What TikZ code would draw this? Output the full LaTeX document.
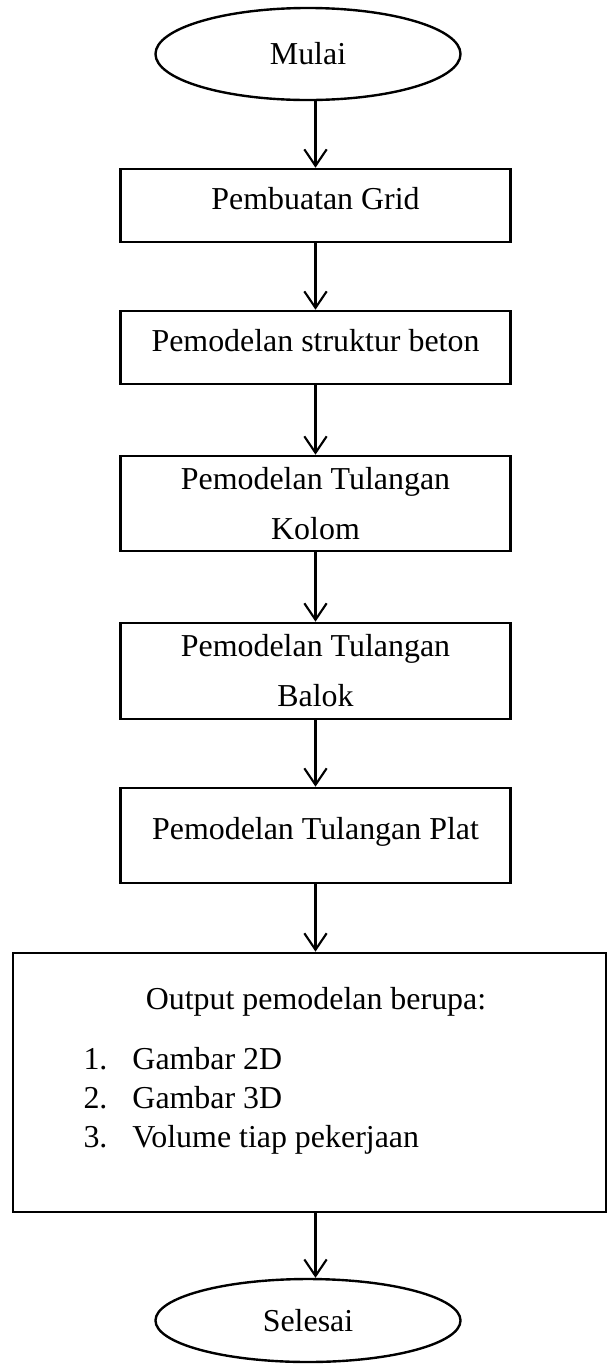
\documentclass[tikz,border=0pt]{standalone}
\usepackage{fontspec}
\setmainfont{Liberation Serif}
\usetikzlibrary{shapes.geometric,arrows.meta}

\begin{document}
\begin{tikzpicture}[x=0.376pt,y=-0.376pt,
    font=\fontsize{12}{18.8}\selectfont,
    terminal/.style={draw,ellipse,line width=0.9pt,inner sep=0pt,minimum width=114.7pt},
    proses/.style={draw,rectangle,line width=1pt,inner sep=0pt,align=center,minimum width=146.6pt},
    satubaris/.style={text depth=5.4pt},
    panah/.style={line width=0.8pt,-{Straight Barb[length=6.2pt,width=8.4pt]}}]
        \useasboundingbox (0,0) rectangle (608,1364);
        %
        \node[terminal,minimum height=34.6pt] (mulai) at (308,54) {Mulai};
        \node[proses,satubaris,minimum height=27.4pt] (grid) at (315.5,205.5) {Pembuatan Grid};
        \node[proses,satubaris,minimum height=27.4pt] (beton) at (315.5,347.5) {Pemodelan struktur beton};
        \node[proses,minimum height=35.7pt] (kolom) at (315.5,503.5) {Pemodelan Tulangan\\Kolom};
        \node[proses,minimum height=36.1pt] (balok) at (315.5,671) {Pemodelan Tulangan\\Balok};
        \node[proses,satubaris,minimum height=35.7pt] (plat) at (315.5,835.5) {Pemodelan Tulangan Plat};
        %
        \node[proses,minimum width=223pt,minimum height=97.4pt] (output) at (309.5,1082.5) {};
        \node (judul) at (316,1002) {Output pemodelan berupa:};
        \node[anchor=west,inner sep=0pt,align=left,font=\fontsize{12}{14.7}\selectfont] (daftar) at (83,1101)
            {\makebox[18.4pt][l]{1.}Gambar 2D\\\makebox[18.4pt][l]{2.}Gambar 3D\\\makebox[18.4pt][l]{3.}Volume tiap pekerjaan};
        %
        \node[terminal,minimum height=31.2pt] (selesai) at (308,1320.5) {Selesai};
        %
        \draw[panah] (grid.north |- mulai.south) -- (grid.north);
        \draw[panah] (grid.south) -- (beton.north);
        \draw[panah] (beton.south) -- (kolom.north);
        \draw[panah] (kolom.south) -- (balok.north);
        \draw[panah] (balok.south) -- (plat.north);
        \draw[panah] (plat.south) -- (plat.south |- output.north);
        \draw[panah] (plat.south |- output.south) -- (plat.south |- selesai.north);
    \end{tikzpicture}
\end{document}
